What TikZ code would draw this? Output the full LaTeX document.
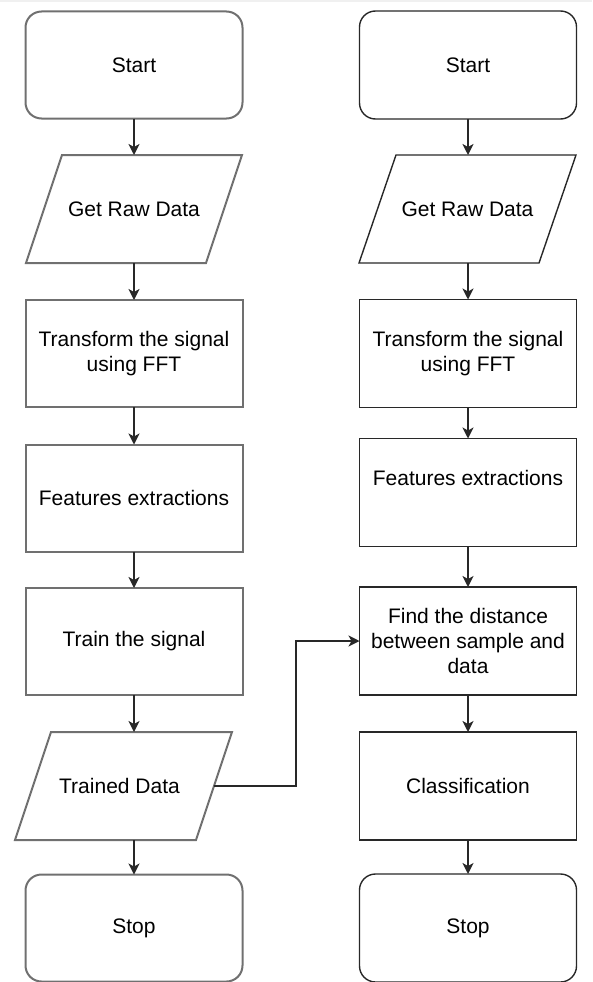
\documentclass[tikz,border=0pt]{standalone}
\usepackage{fontspec}
\setmainfont{Liberation Sans}
\usetikzlibrary{arrows.meta}

\definecolor{edgeL}{RGB}{112,112,112}
\definecolor{edgeR}{RGB}{40,40,40}
\definecolor{wire}{RGB}{40,40,40}

\tikzset{
  x=1pt, y=-1pt,
  every node/.style={font=\fontsize{21}{25}\selectfont, align=center, inner sep=0pt, outer sep=0pt},
  boxL/.style={draw=edgeL, line width=2pt, minimum width=217pt, minimum height=107pt},
  boxR/.style={draw=edgeR, line width=1.4pt, minimum width=217pt, minimum height=108pt},
  termL/.style={boxL, rounded corners=16pt},
  termR/.style={boxR, rounded corners=16pt},
  iobox/.style={minimum width=216pt, minimum height=108pt},
  ioL/.style={draw=edgeL, line width=2pt},
  ioR/.style={draw=edgeR, line width=1.4pt},
  arr/.style={-{Stealth[length=11pt,width=11pt,inset=3pt]}, draw=wire, line width=1.6pt},
}

% slanted outline of an input/output node, slant in pt
\newcommand{\ioshape}[3]{%
  \draw[#1] ([xshift=#3pt]#2.north west) -- (#2.north east)
    -- ([xshift=-#3pt]#2.south east) -- (#2.south west) -- cycle;}

\begin{document}
\begin{tikzpicture}
\useasboundingbox (0,0) rectangle (592,982);
\fill[gray!12] (0,0) rectangle (592,2);

% training column
\node[termL] (startL) at (134,65) {Start};
\node[iobox] (rawL) at (134,209) {Get Raw Data};
\ioshape{ioL}{rawL}{36}
\node[boxL] (fftL) at (134,353.5) {Transform the signal\\using FFT};
\node[boxL] (featL) at (134,498) {Features extractions};
\node[boxL] (trainL) at (134,641.5) {Train the signal};
\node[iobox, minimum width=217pt] (trained) at (123.5,786) {\hspace*{-8pt}Trained Data};
\ioshape{ioL}{trained}{36}
\node[termL] (stopL) at (134,928) {Stop};

% testing column
\node[termR] (startR) at (468,65) {Start};
\node[iobox, minimum width=217pt] (rawR) at (467.5,209) {Get Raw Data};
\ioshape{ioR}{rawR}{37}
\node[boxR] (fftR) at (468,353.5) {Transform the signal\\using FFT};
\node[boxR] (featR) at (468,492.5) {};
\node at (468,478) {Features extractions};
\node[boxR] (dist) at (468,641) {Find the distance\\between sample and\\data};
\node[boxR] (classif) at (468,786) {Classification};
\node[termR] (stopR) at (468,928) {Stop};

% flow
\draw[arr] (startL) -- (rawL);
\draw[arr] (rawL) -- (fftL);
\draw[arr] (fftL) -- (featL);
\draw[arr] (featL) -- (trainL);
\draw[arr] (trainL.south) -- (trainL.south |- trained.north);
\draw[arr] (stopL.north |- trained.south) -- (stopL.north);

\draw[arr] (startR.south) -- (startR.south |- rawR.north);
\draw[arr] (fftR.north |- rawR.south) -- (fftR.north);
\draw[arr] (fftR) -- (featR);
\draw[arr] (featR) -- (dist);
\draw[arr] (dist) -- (classif);
\draw[arr] (classif) -- (stopR);

\coordinate (tdOut) at ([xshift=-18pt]trained.east);
\draw[arr] (tdOut) -- ++(82,0) |- (dist.west);
\end{tikzpicture}
\end{document}
